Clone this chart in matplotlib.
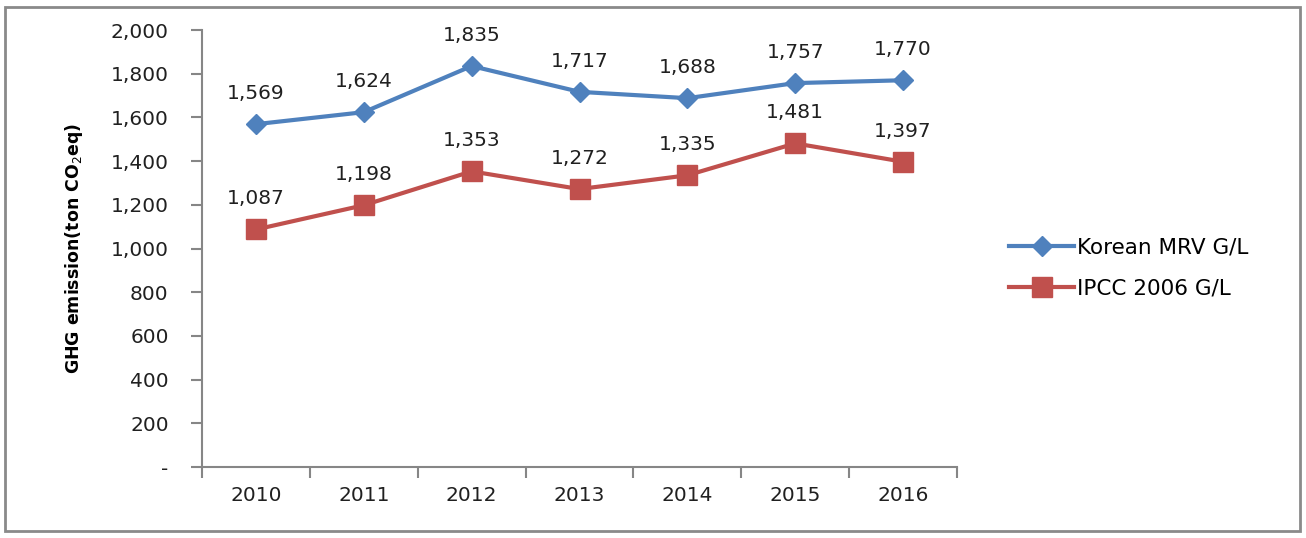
import matplotlib.pyplot as plt
from matplotlib.patches import Rectangle

years = ["2010", "2011", "2012", "2013", "2014", "2015", "2016"]
korean_mrv = [1569, 1624, 1835, 1717, 1688, 1757, 1770]
ipcc_2006 = [1087, 1198, 1353, 1272, 1335, 1481, 1397]
y_ticks = [0, 200, 400, 600, 800, 1000, 1200, 1400, 1600, 1800, 2000]
y_tick_labels = ["-"] + [f"{v:,}" for v in y_ticks[1:]]

blue = "#4F81BD"
red = "#C0504D"
axis_grey = "#868686"
text_col = "#202020"

fig = plt.figure(figsize=(13.06, 5.38), dpi=100)
fig.patches.append(
    Rectangle((5 / 1306, 7 / 538), 1295 / 1306, 524 / 538, transform=fig.transFigure,
              fill=False, edgecolor="#8a8a8a", linewidth=2)
)
ax = fig.add_axes([202 / 1306, 1 - 467 / 538, 755 / 1306, 437 / 538])

x = list(range(len(years)))
ax.plot(x, korean_mrv, color=blue, linewidth=3, marker="D", markersize=10,
        label="Korean MRV G/L")
ax.plot(x, ipcc_2006, color=red, linewidth=3, marker="s", markersize=15,
        label="IPCC 2006 G/L")

for series in (korean_mrv, ipcc_2006):
    for xi, v in zip(x, series):
        ax.annotate(f"{v:,}", (xi, v), xytext=(0, 22), textcoords="offset points",
                    ha="center", va="center", fontsize=14.5, color=text_col)

ax.set_xlim(-0.5, len(years) - 0.5)
ax.set_ylim(0, 2000)
ax.set_yticks(y_ticks)
ax.set_yticklabels(y_tick_labels)
ax.set_xticks([i - 0.5 for i in range(len(years) + 1)])
ax.set_xticklabels([])
ax.set_xticks(x, minor=True)
ax.set_xticklabels(years, minor=True)
ax.tick_params(axis="x", which="minor", length=0, pad=14, labelsize=14.5, labelcolor=text_col)
ax.tick_params(axis="x", which="major", length=8, color=axis_grey, width=1.5, direction="out")
ax.tick_params(axis="y", length=8, color=axis_grey, width=1.5, direction="out", pad=16,
               labelsize=14.5, labelcolor=text_col)

for side in ["top", "right"]:
    ax.spines[side].set_visible(False)
for side in ["left", "bottom"]:
    ax.spines[side].set_color(axis_grey)
    ax.spines[side].set_linewidth(1.5)

ax.set_ylabel("GHG emission(ton CO$_2$eq)", fontsize=12.5, fontweight="bold")
ax.yaxis.set_label_coords(-0.155, 0.5)

fig.legend(loc="center left", bbox_to_anchor=(990 / 1306, 1 - 268 / 538), frameon=False,
           fontsize=15.5, handlelength=3.0, handletextpad=0.15, labelspacing=1.0)

fig.savefig("out.png", dpi=100)
